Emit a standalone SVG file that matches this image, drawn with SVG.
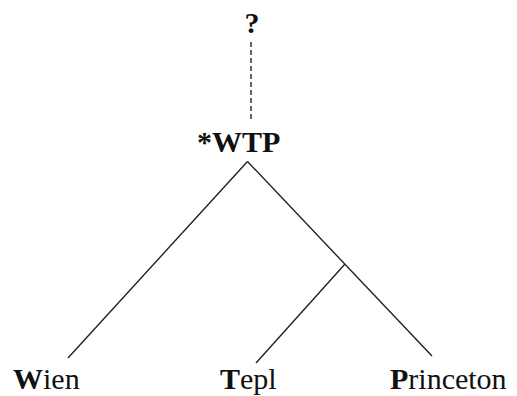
<svg xmlns="http://www.w3.org/2000/svg" width="517" height="396" viewBox="0 0 517 396">
<style>
text{font-family:"Liberation Serif","Times New Roman",serif;font-size:30px;fill:#111}
.b{font-weight:bold}
.e{stroke:#222;stroke-width:1.4;fill:none}
</style>
<rect width="517" height="396" fill="#fff"/>
<g id="connectors">
<line class="e" x1="251" y1="42" x2="251" y2="119" stroke-dasharray="5,3"/>
<line class="e" x1="247.5" y1="161.5" x2="68" y2="358"/>
<line class="e" x1="247.5" y1="161.5" x2="432" y2="356"/>
<line class="e" x1="345" y1="264" x2="256" y2="363"/>
</g>
<g id="q"><text class="b" x="252" y="33" text-anchor="middle">?</text></g>
<g id="wtp"><text class="b" x="197" y="152">*WTP</text></g>
<g id="wien"><text x="13" y="389"><tspan class="b">W</tspan>ien</text></g>
<g id="tepl"><text x="220" y="389"><tspan class="b">T</tspan>epl</text></g>
<g id="princeton"><text x="390" y="389"><tspan class="b">P</tspan>rinceton</text></g>
</svg>
